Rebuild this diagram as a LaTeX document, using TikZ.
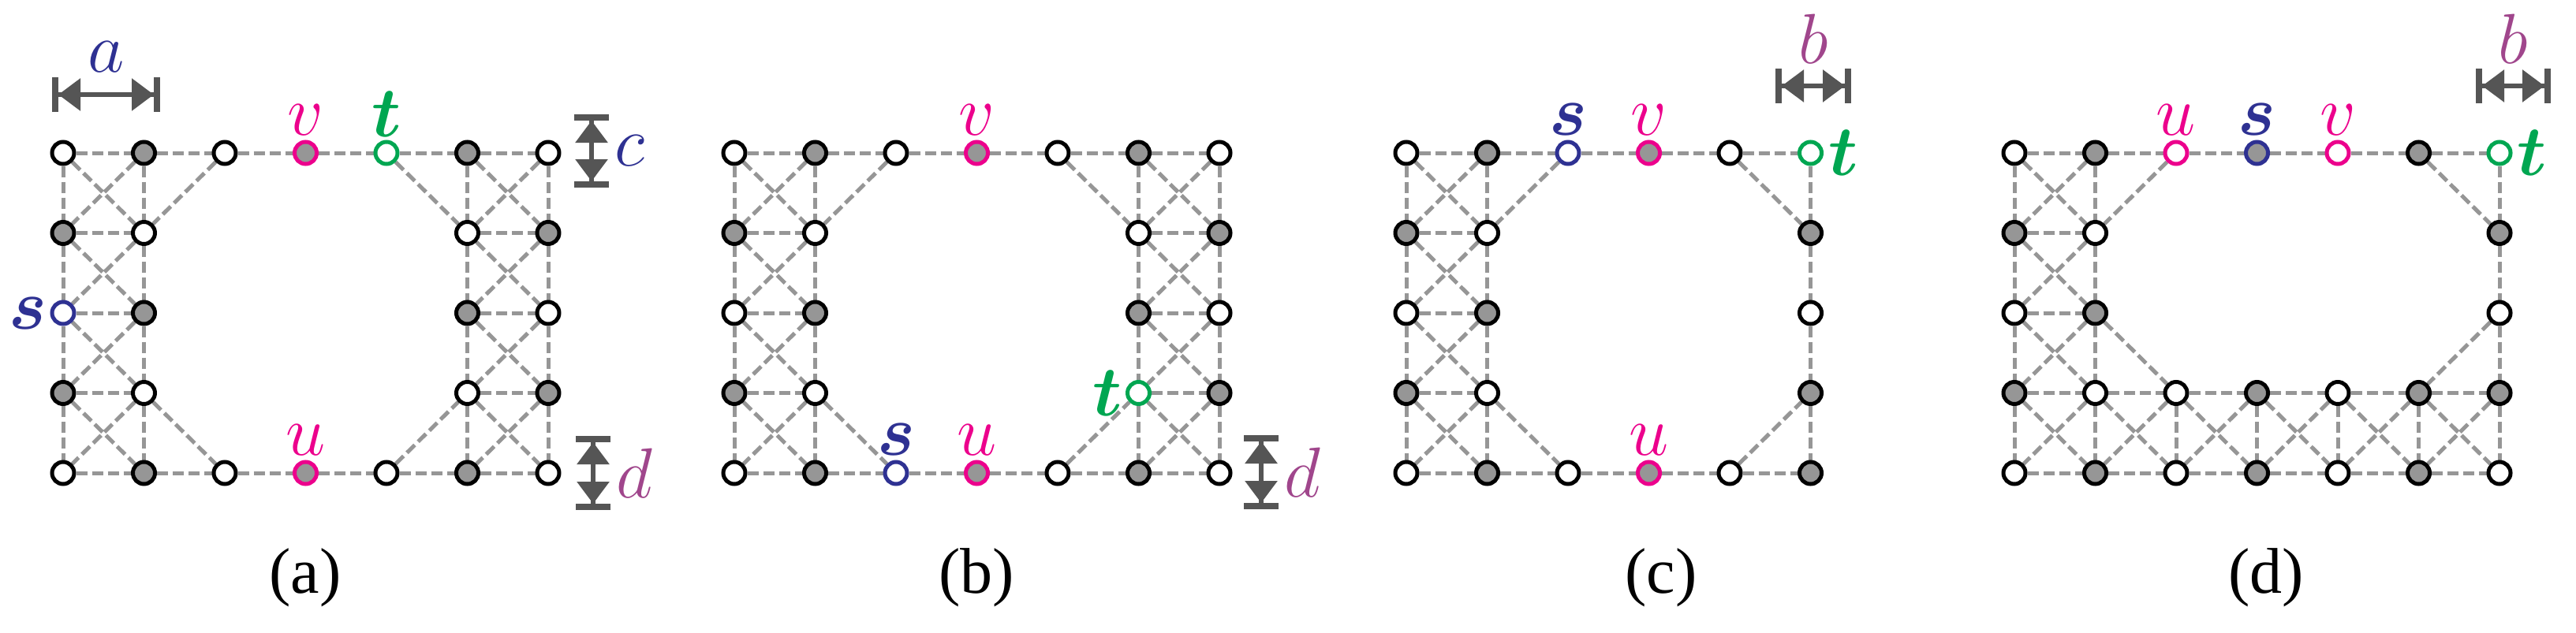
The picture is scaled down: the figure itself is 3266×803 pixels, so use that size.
\RequirePackage{fix-cm}
\documentclass[tikz,border=0pt]{standalone}
\usepackage{fontspec}
\setmainfont{Liberation Serif}
\usepackage{bm}
\usetikzlibrary{arrows.meta, backgrounds}
\definecolor{sblue}{RGB}{46,49,146}
\definecolor{tgreen}{RGB}{0,166,81}
\definecolor{vpink}{RGB}{236,0,140}
\definecolor{dpurple}{RGB}{160,70,140}
\definecolor{edgegray}{RGB}{150,150,150}
\definecolor{dimgray}{RGB}{85,85,85}
\tikzset{
	pt/.style={draw, circle, line width=5pt, minimum size=28pt, inner sep=0pt, fill=white},
	gpt/.style={pt, fill=edgegray},
	spt/.style={pt, draw=sblue},
	sgpt/.style={gpt, draw=sblue},
	tpt/.style={pt, draw=tgreen},
	upt/.style={gpt, draw=vpink},
	uwpt/.style={pt, draw=vpink},
	link/.style={edgegray, line width=5pt, dash pattern=on 14pt off 6pt},
	dim/.style={dimgray, line width=6pt, arrows={Bar[width=44pt,line width=8pt]Triangle[length=28pt,width=40pt]-Triangle[length=28pt,width=40pt]Bar[width=44pt,line width=8pt]}},
	lab/.style={font=\fontsize{90}{90}\selectfont, inner sep=0pt},
	caption/.style={font=\fontsize{82}{82}\selectfont},
}
% one grid cell with its X
\newcommand{\cell}[3]{%
	\draw[link] (#1-#2-#3) -- (#1-\the\numexpr#2+1\relax-#3);
	\draw[link] (#1-#2-\the\numexpr#3+1\relax) -- (#1-\the\numexpr#2+1\relax-\the\numexpr#3+1\relax);
	\draw[link] (#1-#2-#3) -- (#1-#2-\the\numexpr#3+1\relax);
	\draw[link] (#1-\the\numexpr#2+1\relax-#3) -- (#1-\the\numexpr#2+1\relax-\the\numexpr#3+1\relax);
	\draw[link] (#1-#2-#3) -- (#1-\the\numexpr#2+1\relax-\the\numexpr#3+1\relax);
	\draw[link] (#1-\the\numexpr#2+1\relax-#3) -- (#1-#2-\the\numexpr#3+1\relax);
}
\begin{document}
\begin{tikzpicture}[x=1pt, y=-1pt]
	\useasboundingbox (0,0) rectangle (3266,803);
	
	% (a)
	\foreach \c/\r/\s in {0/0/pt,0/1/gpt,0/2/spt,0/3/gpt,0/4/pt,
		1/0/gpt,1/1/pt,1/2/gpt,1/3/pt,1/4/gpt,
		2/0/pt,2/4/pt,3/0/upt,3/4/upt,4/0/tpt,4/4/pt,
		5/0/gpt,5/1/pt,5/2/gpt,5/3/pt,5/4/gpt,
		6/0/pt,6/1/gpt,6/2/pt,6/3/gpt,6/4/pt}
		\node[\s] (a-\c-\r) at ({80+102.5*\c},{194+101.5*\r}) {};
	\node[lab, sblue, left=4pt] at (a-0-2.west) {$\bm{s}$};
	\node[lab, vpink, above=6pt] at (a-3-0.north) {$v$};
	\node[lab, tgreen, above=4pt] at (a-4-0.north) {$\bm{t}$};
	\node[lab, vpink, above=6pt] at (a-3-4.north) {$u$};
	\node (cap-a) [caption] at (387,733) {(a)};
	
	% (b)
	\foreach \c/\r/\s in {0/0/pt,0/1/gpt,0/2/pt,0/3/gpt,0/4/pt,
		1/0/gpt,1/1/pt,1/2/gpt,1/3/pt,1/4/gpt,
		2/0/pt,2/4/spt,3/0/upt,3/4/upt,4/0/pt,4/4/pt,
		5/0/gpt,5/1/pt,5/2/gpt,5/3/tpt,5/4/gpt,
		6/0/pt,6/1/gpt,6/2/pt,6/3/gpt,6/4/pt}
		\node[\s] (b-\c-\r) at ({931+102.5*\c},{194+101.5*\r}) {};
	\node[lab, sblue, above=6pt] at (b-2-4.north) {$\bm{s}$};
	\node[lab, vpink, above=6pt] at (b-3-0.north) {$v$};
	\node[lab, tgreen, left=4pt] at (b-5-3.west) {$\bm{t}$};
	\node[lab, vpink, above=6pt] at (b-3-4.north) {$u$};
	\node (cap-b) [caption] at (1238,733) {(b)};
	
	% (c)
	\foreach \c/\r/\s in {0/0/pt,0/1/gpt,0/2/pt,0/3/gpt,0/4/pt,
		1/0/gpt,1/1/pt,1/2/gpt,1/3/pt,1/4/gpt,
		2/0/spt,2/4/pt,3/0/upt,3/4/upt,4/0/pt,4/4/pt,
		5/0/tpt,5/1/gpt,5/2/pt,5/3/gpt,5/4/gpt}
		\node[\s] (c-\c-\r) at ({1783+102.5*\c},{194+101.5*\r}) {};
	\node[lab, sblue, above=6pt] at (c-2-0.north) {$\bm{s}$};
	\node[lab, vpink, above=6pt] at (c-3-0.north) {$v$};
	\node[lab, tgreen, right=6pt] at (c-5-0.east) {$\bm{t}$};
	\node[lab, vpink, above=6pt] at (c-3-4.north) {$u$};
	\node (cap-c) [caption] at (2106,733) {(c)};
	
	% (d)
	\foreach \c/\r/\s in {0/0/pt,0/1/gpt,0/2/pt,0/3/gpt,0/4/pt,
		1/0/gpt,1/1/pt,1/2/gpt,1/3/pt,1/4/gpt,
		2/0/uwpt,2/3/pt,2/4/pt,3/0/sgpt,3/3/gpt,3/4/gpt,
		4/0/uwpt,4/3/pt,4/4/pt,5/0/gpt,5/3/gpt,5/4/gpt,
		6/0/tpt,6/1/gpt,6/2/pt,6/3/gpt,6/4/pt}
		\node[\s] (d-\c-\r) at ({2554+102.5*\c},{194+101.5*\r}) {};
	\node[lab, vpink, above=6pt] at (d-2-0.north) {$u$};
	\node[lab, sblue, above=6pt] at (d-3-0.north) {$\bm{s}$};
	\node[lab, vpink, above=6pt] at (d-4-0.north) {$v$};
	\node[lab, tgreen, right=6pt] at (d-6-0.east) {$\bm{t}$};
	\node (cap-d) [caption] at (2873,733) {(d)};
	
	% dimensions
	\coordinate (a1) at (66,120);   \coordinate (a2) at (203,120);
	\coordinate (c1) at (750,145);  \coordinate (c2) at (750,238);
	\coordinate (d1) at (752,553);  \coordinate (d2) at (752,647);
	\coordinate (e1) at (1599,552); \coordinate (e2) at (1599,646);
	\coordinate (b1) at (2251,109); \coordinate (b2) at (2347,109);
	\coordinate (f1) at (3139,109); \coordinate (f2) at (3234,109);
	\draw[dim] (a1) -- (a2) node[midway, above=26pt, lab, sblue] {$a$};
	\draw[dim] (c1) -- (c2) node[midway, right=26pt, lab, sblue] {$c$};
	\draw[dim] (d1) -- (d2) node[midway, right=26pt, lab, dpurple] {$d$};
	\draw[dim] (e1) -- (e2) node[midway, right=26pt, lab, dpurple] {$d$};
	\draw[dim] (b1) -- (b2) node[midway, above=26pt, lab, dpurple] {$b$};
	\draw[dim] (f1) -- (f2) node[midway, above=26pt, lab, dpurple] {$b$};
	
	\begin{scope}[on background layer]
		% (a)
		\foreach \r in {0,1,2,3} {\cell{a}{0}{\r} \cell{a}{5}{\r}}
		\foreach \c [count=\n from 2] in {1,2,3,4} {
			\draw[link] (a-\c-0) -- (a-\n-0);
			\draw[link] (a-\c-4) -- (a-\n-4);
		}
		\draw[link] (a-2-0) -- (a-1-1);
		\draw[link] (a-4-0) -- (a-5-1);
		\draw[link] (a-1-3) -- (a-2-4);
		\draw[link] (a-4-4) -- (a-5-3);
		% (b)
		\foreach \r in {0,1,2,3} {\cell{b}{0}{\r} \cell{b}{5}{\r}}
		\foreach \c [count=\n from 2] in {1,2,3,4} {
			\draw[link] (b-\c-0) -- (b-\n-0);
			\draw[link] (b-\c-4) -- (b-\n-4);
		}
		\draw[link] (b-2-0) -- (b-1-1);
		\draw[link] (b-4-0) -- (b-5-1);
		\draw[link] (b-1-3) -- (b-2-4);
		\draw[link] (b-4-4) -- (b-5-3);
		% (c)
		\foreach \r [count=\n from 1] in {0,1,2,3} {
			\cell{c}{0}{\r}
			\draw[link] (c-5-\r) -- (c-5-\n);
		}
		\foreach \c [count=\n from 2] in {1,2,3,4} {
			\draw[link] (c-\c-0) -- (c-\n-0);
			\draw[link] (c-\c-4) -- (c-\n-4);
		}
		\draw[link] (c-2-0) -- (c-1-1);
		\draw[link] (c-4-0) -- (c-5-1);
		\draw[link] (c-1-3) -- (c-2-4);
		\draw[link] (c-4-4) -- (c-5-3);
		% (d)
		\foreach \r [count=\n from 1] in {0,1,2,3} {
			\cell{d}{0}{\r}
			\draw[link] (d-6-\r) -- (d-6-\n);
		}
		\foreach \c in {1,...,5} {\cell{d}{\c}{3}}
		\foreach \c [count=\n from 2] in {1,...,5} {\draw[link] (d-\c-0) -- (d-\n-0);}
		\draw[link] (d-2-0) -- (d-1-1);
		\draw[link] (d-5-0) -- (d-6-1);
		\draw[link] (d-1-2) -- (d-2-3);
		\draw[link] (d-6-2) -- (d-5-3);
	\end{scope}
\end{tikzpicture}
\end{document}
